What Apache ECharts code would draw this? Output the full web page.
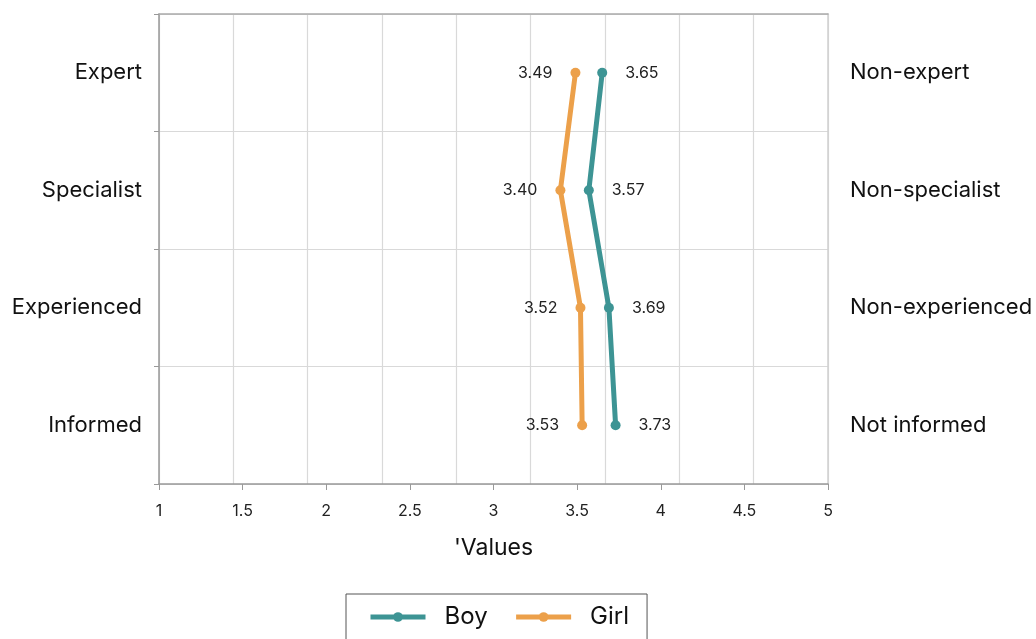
<!DOCTYPE html>
<html>
<head>
<meta charset="utf-8">
<script src="https://cdn.jsdelivr.net/npm/echarts@6/dist/echarts.min.js"></script>
<style>
    html, body { margin: 0; padding: 0; background: #fff; }
    #chart { width: 1036px; height: 639px; }
</style>
</head>
<body>
<div id="chart"></div>
<script>
// Data
var categories = ['Expert', 'Specialist', 'Experienced', 'Informed'];
var oppositeLabels = ['Non-expert', 'Non-specialist', 'Non-experienced', 'Not informed'];
var boyValues = [3.65, 3.57, 3.69, 3.73];
var girlValues = [3.49, 3.40, 3.52, 3.53];

var chart_element = document.getElementById('chart');

if (chart_element) {

    // Initialize chart
    var chart = echarts.init(chart_element);

    var labelStyle = function(pos) {
        return {
            show: true,
            position: pos,
            distance: 18,
            fontSize: 16,
            color: '#222',
            formatter: function(p) { return p.value.toFixed(2); }
        };
    };

    chart.setOption({

        // Global text styles
        textStyle: {
            fontFamily: 'Inter, "Noto Sans", sans-serif'
        },

        grid: {
            left: 159,
            right: 208,
            top: 14,
            bottom: 155
        },

        // Legend
        legend: {
            top: 594,
            left: 346,
            data: ['Boy', 'Girl'],
            itemWidth: 55,
            itemHeight: 12,
            itemGap: 26,
            padding: [11, 18, 11, 22],
            borderColor: '#555',
            borderWidth: 1,
            lineStyle: { width: 5 },
            textStyle: {
                fontSize: 24,
                color: '#111',
                padding: [0, 0, 0, 14]
            }
        },

        xAxis: [{
            type: 'value',
            position: 'bottom',
            min: 1,
            max: 5,
            interval: 0.5,
            name: "'Values",
            nameLocation: 'middle',
            nameGap: 53,
            nameTextStyle: { fontSize: 23, color: '#111' },
            axisLine: { show: true, lineStyle: { color: '#999', width: 1.5 } },
            axisTick: { show: true, length: 6, lineStyle: { color: '#999' } },
            axisLabel: { fontSize: 16, color: '#222', margin: 19 },
            splitLine: { show: false }
        }, {
            // background grid, 9 columns
            type: 'value',
            position: 'top',
            min: 0,
            max: 9,
            interval: 1,
            axisLine: { show: true, lineStyle: { color: '#aaa', width: 1.5 } },
            axisTick: { show: false },
            axisLabel: { show: false },
            splitLine: { show: true, lineStyle: { color: '#d9d9d9', width: 1.2 } }
        }],

        yAxis: [{
            type: 'category',
            position: 'left',
            inverse: true,
            data: categories,
            axisLine: { show: true, lineStyle: { color: '#999', width: 1.5 } },
            axisTick: { show: true, length: 5, lineStyle: { color: '#999' } },
            axisLabel: { fontSize: 22, color: '#111', margin: 17 },
            splitLine: { show: true, lineStyle: { color: '#d9d9d9', width: 1.2 } }
        }, {
            type: 'category',
            position: 'right',
            inverse: true,
            data: oppositeLabels,
            axisLine: { show: true, lineStyle: { color: '#d0d0d0', width: 1.5 } },
            axisTick: { show: false },
            axisLabel: { fontSize: 22, color: '#111', margin: 22, padding: [0, 0, 6, 0] }
        }],

        // Series
        series: [{
            name: 'Boy',
            type: 'line',
            xAxisIndex: 0,
            yAxisIndex: 0,
            data: boyValues,
            symbol: 'circle',
            symbolSize: 10,
            color: '#3d9494',
            lineStyle: { width: 5 },
            label: labelStyle('right'),
            z: 3
        }, {
            name: 'Girl',
            type: 'line',
            xAxisIndex: 0,
            yAxisIndex: 0,
            data: girlValues,
            symbol: 'circle',
            symbolSize: 10,
            color: '#eca04a',
            lineStyle: { width: 5 },
            label: labelStyle('left'),
            z: 3
        }]
    });
}
</script>
</body>
</html>
